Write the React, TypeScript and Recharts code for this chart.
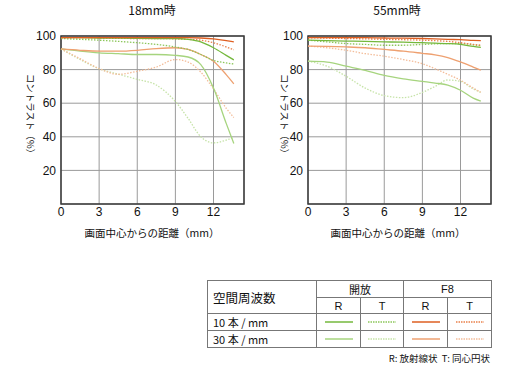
import React from "react"
import { CartesianGrid, Line, LineChart, ReferenceArea, XAxis, YAxis } from "recharts"

// image height distance (mm)
const xs = [0, 1.5, 3, 4.5, 6, 7.5, 9, 10, 11, 12, 13, 13.6]
const xTicks = [0, 3, 6, 9, 12]
const yTicks = [20, 40, 60, 80, 100]

// 18mm
const w_openR10 = [99, 99, 98.8, 98.7, 98.6, 98.5, 98.5, 98, 96.5, 93, 88.5, 85.8]
const w_openT10 = [98.5, 98, 97.5, 96.8, 96, 95, 93.5, 92, 89, 85.5, 84, 83.3]
const w_openR30 = [92.3, 91, 90, 89.5, 89, 89, 88.5, 87.5, 83, 69, 48, 36]
const w_openT30 = [92.3, 86, 80.5, 77.3, 74.2, 70.8, 61, 51, 40, 36.4, 38, 39.6]
const w_f8R10 = [99, 99, 99, 99, 99, 99, 99, 99, 98.8, 98.3, 97.2, 96.5]
const w_f8T10 = [99, 99, 98.8, 98.6, 98.5, 98.5, 98.3, 98, 97.5, 96, 93.5, 91.8]
const w_f8R30 = [92.3, 91.5, 91, 91, 91.5, 92.5, 93, 92, 89, 85, 77, 71.5]
const w_f8T30 = [92.3, 86.5, 80.6, 77.2, 79, 81.5, 86, 84.5, 78.5, 68.5, 57, 51.5]

// 55mm
const t_openR10 = [97.5, 97.3, 97, 96.8, 96.5, 96.3, 96, 95.8, 95.5, 95, 93.8, 93.2]
const t_openT10 = [97.5, 96.5, 95.5, 95, 94.5, 94.5, 95, 95.3, 95.5, 95.5, 94.8, 94.2]
const t_openR30 = [85, 84.5, 82, 79.5, 76.5, 74.5, 73, 72, 70.8, 67.7, 63, 61.2]
const t_openT30 = [85, 82, 76, 69, 64.5, 63.3, 66.4, 70, 73.8, 73, 68.5, 66.4]
const t_f8R10 = [99, 99, 99, 99, 98.8, 98.7, 98.5, 98.3, 98, 97.8, 97.4, 97.2]
const t_f8T10 = [99, 98.7, 98.5, 98.3, 98, 97.8, 97.5, 97.2, 96.8, 96, 95, 94.5]
const t_f8R30 = [94, 93.8, 93.5, 93, 92, 91, 89.7, 88.8, 87.2, 84.6, 81.5, 79.6]
const t_f8T30 = [94, 93, 91.5, 89.5, 88, 86, 83.5, 80.5, 77.2, 73.7, 69, 66.5]

const series = [
  { key: "openT30", color: "#c6e3a8", dash: "1.5 1.5" },
  { key: "f8T30", color: "#f3bd9a", dash: "1.5 1.5" },
  { key: "openR30", color: "#a6d47e", dash: undefined },
  { key: "f8R30", color: "#eea070", dash: undefined },
  { key: "openT10", color: "#8cc65a", dash: "1.5 1.5" },
  { key: "f8T10", color: "#e9804a", dash: "1.5 1.5" },
  { key: "openR10", color: "#74b83c", dash: undefined },
  { key: "f8R10", color: "#de5f22", dash: undefined },
]

const rows = (v: Record<string, number[]>) =>
  xs.map((x, i) => {
    const r: Record<string, number> = { x }
    for (const k in v) r[k] = v[k][i]
    return r
  })

const wideData = rows({
  openR10: w_openR10, openT10: w_openT10, openR30: w_openR30, openT30: w_openT30,
  f8R10: w_f8R10, f8T10: w_f8T10, f8R30: w_f8R30, f8T30: w_f8T30,
})
const teleData = rows({
  openR10: t_openR10, openT10: t_openT10, openR30: t_openR30, openT30: t_openT30,
  f8R10: t_f8R10, f8T10: t_f8T10, f8R30: t_f8R30, f8T30: t_f8T30,
})

const latin = "'Liberation Sans', Arial, 'Noto Sans CJK JP', sans-serif"
const jp = "'Noto Sans CJK JP', 'Liberation Sans', sans-serif"

function MtfChart({ data, left, yWidth, right }: { data: any[]; left: number; yWidth: number; right: number }) {
  return (
    <div style={{ position: "absolute", left, top: 0 }}>
      <LineChart width={260} height={250} data={data} margin={{ top: 36, right, left: 0, bottom: 0 }}>
        <CartesianGrid stroke="#9a9a9a" strokeWidth={1} />
        <XAxis
          dataKey="x"
          type="number"
          domain={[0, 14.4]}
          ticks={xTicks}
          axisLine={false}
          tickLine={false}
          tickSize={0}
          tickMargin={3}
          height={46}
          tick={{ fontSize: 12, fill: "#111", fontFamily: latin }}
        />
        <YAxis
          type="number"
          domain={[0, 100]}
          ticks={yTicks}
          axisLine={false}
          tickLine={false}
          tickSize={0}
          tickMargin={5}
          width={yWidth}
          tick={{ fontSize: 12, fill: "#111", fontFamily: latin }}
        />
        <ReferenceArea x1={0} x2={14.4} y1={0} y2={100} fill="none" stroke="#3a3a3a" strokeWidth={1.5} />
        {series.map((s) => (
          <Line
            key={s.key}
            dataKey={s.key}
            type="monotone"
            stroke={s.color}
            strokeWidth={1.3}
            strokeDasharray={s.dash}
            dot={false}
            isAnimationActive={false}
          />
        ))}
      </LineChart>
    </div>
  )
}

function Sample({ color, dash }: { color: string; dash?: string }) {
  return (
    <svg width={30} height={6} style={{ display: "block", margin: "0 auto" }}>
      <line x1={1} x2={29} y1={3} y2={3} stroke={color} strokeWidth={1.5} strokeDasharray={dash} />
    </svg>
  )
}

const cell: React.CSSProperties = { border: "1px solid #777", padding: 0, textAlign: "center" }

export default function App() {
  const label = (text: string, x: number, y: number, size = 11) => (
    <div
      style={{
        position: "absolute", left: x - 100, top: y - size * 0.65, width: 200, textAlign: "center",
        fontSize: size, fontFamily: jp, color: "#111", lineHeight: 1.2, whiteSpace: "nowrap",
      }}
    >
      {text}
    </div>
  )
  const vlabel = (x: number, y: number) => (
    <svg style={{ position: "absolute", left: x - 10, top: y - 50 }} width={20} height={100}>
      <text x={10} y={50} transform={`rotate(90 10 50)`} textAnchor="middle" dominantBaseline="central" fontSize={9.5} fontFamily={jp} fill="#111">
        コントラスト（%）
      </text>
    </svg>
  )
  return (
    <div style={{ position: "absolute", left: 0, top: 0, width: 520, height: 371, background: "#fff", overflow: "hidden" }}>
      <MtfChart data={wideData} left={0} yWidth={61} right={16} />
      <MtfChart data={teleData} left={260} yWidth={48} right={29} />
      {label("18mm時", 152, 11, 12)}
      {label("55mm時", 397, 11, 12)}
      {label("画面中心からの距離（mm）", 152, 234, 10.5)}
      {label("画面中心からの距離（mm）", 398, 234, 10.5)}
      {vlabel(31, 116)}
      {vlabel(285, 116)}
      <table
        style={{
          position: "absolute", left: 207, top: 280, width: 284, height: 66, borderCollapse: "collapse",
          fontFamily: jp, fontSize: 11, color: "#111", tableLayout: "fixed",
        }}
      >
        <colgroup>
          <col style={{ width: 109 }} />
          <col style={{ width: 44 }} />
          <col style={{ width: 43 }} />
          <col style={{ width: 44 }} />
          <col style={{ width: 44 }} />
        </colgroup>
        <tbody>
          <tr style={{ height: 17 }}>
            <td rowSpan={2} style={{ ...cell, textAlign: "left", paddingLeft: 5, fontSize: 12.5 }}>空間周波数</td>
            <td colSpan={2} style={cell}>開放</td>
            <td colSpan={2} style={{ ...cell, fontFamily: latin }}>F8</td>
          </tr>
          <tr style={{ height: 16 }}>
            <td style={{ ...cell, fontFamily: latin }}>R</td>
            <td style={{ ...cell, fontFamily: latin }}>T</td>
            <td style={{ ...cell, fontFamily: latin }}>R</td>
            <td style={{ ...cell, fontFamily: latin }}>T</td>
          </tr>
          <tr style={{ height: 17 }}>
            <td style={{ ...cell, textAlign: "left", paddingLeft: 5 }}>10 本 / mm</td>
            <td style={cell}><Sample color="#74b83c" /></td>
            <td style={cell}><Sample color="#8cc65a" dash="1.5 1" /></td>
            <td style={cell}><Sample color="#de5f22" /></td>
            <td style={cell}><Sample color="#e9804a" dash="1.5 1" /></td>
          </tr>
          <tr style={{ height: 16 }}>
            <td style={{ ...cell, textAlign: "left", paddingLeft: 5 }}>30 本 / mm</td>
            <td style={cell}><Sample color="#a6d47e" /></td>
            <td style={cell}><Sample color="#c6e3a8" dash="1.5 1" /></td>
            <td style={cell}><Sample color="#eea070" /></td>
            <td style={cell}><Sample color="#f3bd9a" dash="1.5 1" /></td>
          </tr>
        </tbody>
      </table>
      <div style={{ position: "absolute", right: 30, top: 351, fontSize: 9.5, fontFamily: jp, color: "#111", whiteSpace: "nowrap" }}>
        R: 放射線状&nbsp;&nbsp;T: 同心円状
      </div>
    </div>
  )
}
